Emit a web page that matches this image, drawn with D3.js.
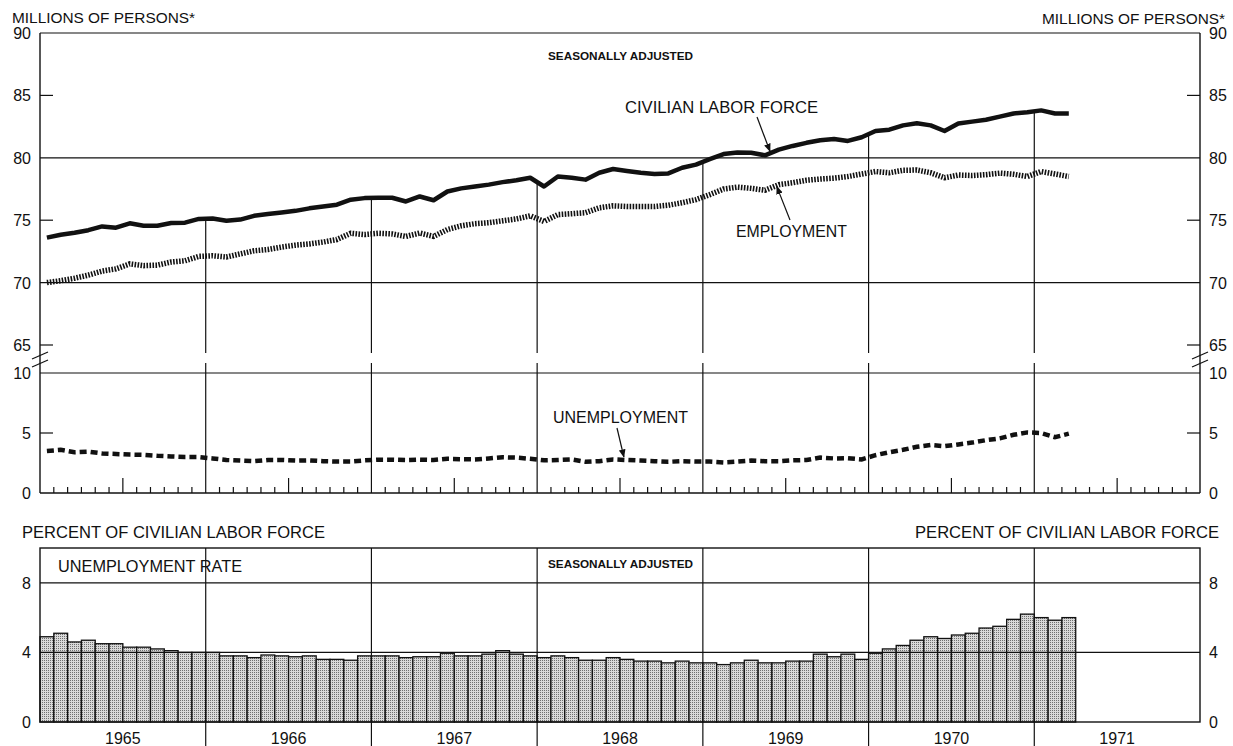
<!DOCTYPE html>
<html>
<head>
<meta charset="utf-8">
<script src="https://cdn.jsdelivr.net/npm/d3@7"></script>
<style>
    html, body { margin: 0; padding: 0; background: #fff; }
    svg { display: block; font-family: 'Liberation Sans', Arial, sans-serif; }
</style>
</head>
<body>
<div id="chart"></div>
<script>
// Monthly, seasonally adjusted, Jan 1965 - Mar 1971
const years = ['1965', '1966', '1967', '1968', '1969', '1970', '1971'];

const laborForce = [
    73.6, 73.84, 74.0, 74.2, 74.5, 74.4, 74.75, 74.56, 74.55, 74.77, 74.8, 75.1,
    75.13, 74.95, 75.05, 75.35, 75.5, 75.62, 75.75, 75.95, 76.1, 76.24, 76.64, 76.77,
    76.8, 76.8, 76.5, 76.9, 76.6, 77.3, 77.55, 77.7, 77.85, 78.05, 78.2, 78.4,
    77.7, 78.5, 78.4, 78.25, 78.8, 79.1, 78.95, 78.8, 78.7, 78.75, 79.2, 79.45,
    79.9, 80.3, 80.43, 80.4, 80.2, 80.65, 80.95, 81.2, 81.4, 81.5, 81.35, 81.65,
    82.15, 82.25, 82.6, 82.77, 82.6, 82.15, 82.75, 82.9, 83.05, 83.3, 83.55, 83.65,
    83.8, 83.55, 83.55
];

const employment = [
    70.0, 70.15, 70.35, 70.6, 70.92, 71.1, 71.5, 71.36, 71.4, 71.65, 71.75, 72.1,
    72.15, 72.05, 72.3, 72.55, 72.65, 72.85, 73.0, 73.1, 73.25, 73.45, 73.95, 73.85,
    73.95, 73.9, 73.7, 73.97, 73.7, 74.25, 74.55, 74.72, 74.8, 74.95, 75.1, 75.35,
    74.9, 75.45, 75.52, 75.6, 76.0, 76.15, 76.1, 76.1, 76.1, 76.2, 76.4, 76.65,
    77.05, 77.5, 77.65, 77.55, 77.4, 77.85, 78.0, 78.2, 78.3, 78.37, 78.5, 78.7,
    78.9, 78.8, 79.0, 79.02, 78.8, 78.4, 78.62, 78.58, 78.65, 78.77, 78.68, 78.5,
    78.9, 78.7, 78.5
];

const unemployment = [
    3.5, 3.6, 3.4, 3.45, 3.3, 3.25, 3.2, 3.18, 3.1, 3.05, 3.0, 3.0,
    2.88, 2.75, 2.7, 2.65, 2.75, 2.75, 2.7, 2.72, 2.65, 2.62, 2.62, 2.72,
    2.78, 2.78, 2.75, 2.78, 2.75, 2.85, 2.82, 2.8, 2.88, 2.98, 2.95, 2.85,
    2.72, 2.75, 2.8, 2.6, 2.65, 2.8, 2.75, 2.7, 2.65, 2.6, 2.65, 2.62,
    2.62, 2.55, 2.62, 2.7, 2.65, 2.65, 2.72, 2.75, 2.95, 2.88, 2.9, 2.8,
    3.15, 3.4, 3.6, 3.85, 4.0, 3.9, 4.05, 4.2, 4.4, 4.55, 4.85, 5.05,
    5.0, 4.65, 4.95
];

const unemploymentRate = [
    4.9, 5.1, 4.6, 4.7, 4.5, 4.5, 4.3, 4.3, 4.2, 4.1, 4.0, 4.0,
    4.0, 3.8, 3.8, 3.7, 3.85, 3.8, 3.75, 3.8, 3.6, 3.6, 3.55, 3.8,
    3.8, 3.8, 3.7, 3.75, 3.75, 3.95, 3.8, 3.8, 3.9, 4.1, 3.9, 3.8,
    3.7, 3.8, 3.7, 3.55, 3.55, 3.7, 3.6, 3.5, 3.5, 3.4, 3.5, 3.4,
    3.4, 3.3, 3.4, 3.55, 3.4, 3.4, 3.5, 3.5, 3.9, 3.75, 3.9, 3.6,
    3.95, 4.2, 4.4, 4.7, 4.9, 4.8, 5.0, 5.1, 5.4, 5.5, 5.9, 6.2,
    6.0, 5.85, 6.0
];

const millionsTicks = [65, 70, 75, 80, 85, 90];
const millionsGrid = [70, 80];
const lowerTicks = [0, 5, 10];
const rateTicks = [0, 4, 8];

const W = 1233, H = 746;
const plotLeft = 40, plotRight = 1200;

const svg = d3.select('#chart').append('svg')
    .attr('width', W)
    .attr('height', H);

const defs = svg.append('defs');
const stipple = defs.append('pattern')
    .attr('id', 'stipple')
    .attr('width', 2).attr('height', 2)
    .attr('patternUnits', 'userSpaceOnUse');
stipple.append('rect').attr('width', 2).attr('height', 2).attr('fill', '#d9d9d9');
stipple.append('rect').attr('width', 1).attr('height', 1).attr('fill', '#707070');

// Scales
const months = d3.range(years.length * 12);
const x = d3.scaleBand().domain(months).range([plotLeft, plotRight]).padding(0);
const xMid = i => x(i) + x.bandwidth() / 2;
const xEdge = i => i >= months.length ? plotRight : x(i);

const yTop = d3.scaleLinear().domain([65, 90]).range([345, 33]);
const yMid = d3.scaleLinear().domain([0, 10]).range([493, 373]);
const yBot = d3.scaleLinear().domain([0, 10]).range([722, 548]);

const ink = '#111';

// ---------- Bottom panel: unemployment rate bars ----------
const botG = svg.append('g');

botG.selectAll('rect.bar')
    .data(unemploymentRate)
    .enter().append('rect')
    .attr('class', 'bar')
    .attr('x', (d, i) => x(i))
    .attr('width', x.bandwidth())
    .attr('y', d => yBot(d))
    .attr('height', d => yBot(0) - yBot(d))
    .attr('fill', 'url(#stipple)')
    .attr('stroke', ink)
    .attr('stroke-width', 1.3);

botG.selectAll('line.grid')
    .data([4, 8])
    .enter().append('line')
    .attr('x1', plotLeft).attr('x2', plotRight)
    .attr('y1', d => yBot(d)).attr('y2', d => yBot(d))
    .attr('stroke', ink).attr('stroke-width', 1.2);

// year separators, running below the axis
botG.selectAll('line.year')
    .data(d3.range(1, years.length))
    .enter().append('line')
    .attr('x1', k => xEdge(k * 12)).attr('x2', k => xEdge(k * 12))
    .attr('y1', yBot(10)).attr('y2', H)
    .attr('stroke', ink).attr('stroke-width', 1.2);

botG.append('rect')
    .attr('x', plotLeft).attr('y', yBot(10))
    .attr('width', plotRight - plotLeft).attr('height', yBot(0) - yBot(10))
    .attr('fill', 'none').attr('stroke', ink).attr('stroke-width', 1.4);

botG.selectAll('text.year')
    .data(years)
    .enter().append('text')
    .attr('x', (d, k) => xEdge(k * 12 + 6))
    .attr('y', 744)
    .attr('text-anchor', 'middle')
    .attr('font-size', 16)
    .attr('fill', ink)
    .text(d => d);

[['end', plotLeft - 9], ['start', plotRight + 9]].forEach(([anchor, tx]) => {
    botG.selectAll(null)
        .data(rateTicks)
        .enter().append('text')
        .attr('x', tx).attr('y', d => yBot(d) + 6)
        .attr('text-anchor', anchor)
        .attr('font-size', 16)
        .attr('fill', ink)
        .text(d => d);
});

botG.append('text').attr('x', 22).attr('y', 538)
    .attr('font-size', 16).attr('fill', ink)
    .attr('textLength', 303).attr('lengthAdjust', 'spacingAndGlyphs')
    .text('PERCENT OF CIVILIAN LABOR FORCE');
botG.append('text').attr('x', 1219).attr('y', 538)
    .attr('text-anchor', 'end')
    .attr('font-size', 16).attr('fill', ink)
    .attr('textLength', 304).attr('lengthAdjust', 'spacingAndGlyphs')
    .text('PERCENT OF CIVILIAN LABOR FORCE');
botG.append('text').attr('x', 58).attr('y', 572)
    .attr('font-size', 16).attr('fill', ink)
    .attr('textLength', 184).attr('lengthAdjust', 'spacingAndGlyphs')
    .text('UNEMPLOYMENT RATE');
botG.append('text').attr('x', 548).attr('y', 568)
    .attr('font-size', 11).attr('font-weight', 'bold').attr('fill', ink)
    .attr('textLength', 145).attr('lengthAdjust', 'spacingAndGlyphs')
    .text('SEASONALLY ADJUSTED');

// ---------- Top panel: labor force & employment ----------
const topG = svg.append('g');

topG.selectAll('line.grid')
    .data(millionsGrid.concat([90]))
    .enter().append('line')
    .attr('x1', plotLeft).attr('x2', plotRight)
    .attr('y1', d => yTop(d)).attr('y2', d => yTop(d))
    .attr('stroke', ink).attr('stroke-width', 1.2);

// year lines start at the labor force curve
topG.selectAll('line.year')
    .data(d3.range(1, years.length))
    .enter().append('line')
    .attr('x1', k => xEdge(k * 12)).attr('x2', k => xEdge(k * 12))
    .attr('y1', k => yTop((laborForce[k * 12 - 1] + laborForce[k * 12]) / 2))
    .attr('y2', yTop(65) + 8)
    .attr('stroke', ink).attr('stroke-width', 1.2);

// short inner ticks
[[plotLeft, 13], [plotRight, -13]].forEach(([ax, len]) => {
    topG.selectAll(null)
        .data([65, 75, 85])
        .enter().append('line')
        .attr('x1', ax).attr('x2', ax + len)
        .attr('y1', d => yTop(d)).attr('y2', d => yTop(d))
        .attr('stroke', ink).attr('stroke-width', 1.2);
});

[['end', plotLeft - 9], ['start', plotRight + 9]].forEach(([anchor, tx]) => {
    topG.selectAll(null)
        .data(millionsTicks)
        .enter().append('text')
        .attr('x', tx).attr('y', d => yTop(d) + 6)
        .attr('text-anchor', anchor)
        .attr('font-size', 16)
        .attr('fill', ink)
        .text(d => d);
});

const lineTop = series => d3.line()
    .x((d, i) => xMid(i))
    .y(d => yTop(d))
    .curve(d3.curveLinear)(series);

topG.append('path')
    .attr('d', lineTop(employment))
    .attr('fill', 'none').attr('stroke', ink)
    .attr('stroke-width', 5.5)
    .attr('stroke-dasharray', '1.6,1.4');

topG.append('path')
    .attr('d', lineTop(laborForce))
    .attr('fill', 'none').attr('stroke', ink)
    .attr('stroke-width', 4.5)
    .attr('stroke-linejoin', 'round');

topG.append('text').attr('x', 12).attr('y', 23)
    .attr('font-size', 14).attr('fill', ink)
    .attr('textLength', 183).attr('lengthAdjust', 'spacingAndGlyphs')
    .text('MILLIONS OF PERSONS*');
topG.append('text').attr('x', 1225).attr('y', 24)
    .attr('text-anchor', 'end')
    .attr('font-size', 14).attr('fill', ink)
    .attr('textLength', 183).attr('lengthAdjust', 'spacingAndGlyphs')
    .text('MILLIONS OF PERSONS*');
topG.append('text').attr('x', 548).attr('y', 60)
    .attr('font-size', 11).attr('font-weight', 'bold').attr('fill', ink)
    .attr('textLength', 145).attr('lengthAdjust', 'spacingAndGlyphs')
    .text('SEASONALLY ADJUSTED');

// ---------- Middle panel: unemployment ----------
const midG = svg.append('g');

midG.append('line')
    .attr('x1', plotLeft).attr('x2', plotRight)
    .attr('y1', yMid(10)).attr('y2', yMid(10))
    .attr('stroke', ink).attr('stroke-width', 1.2);
midG.append('line')
    .attr('x1', plotLeft).attr('x2', plotRight)
    .attr('y1', yMid(0)).attr('y2', yMid(0))
    .attr('stroke', ink).attr('stroke-width', 1.5);

midG.selectAll('line.year')
    .data(d3.range(1, years.length))
    .enter().append('line')
    .attr('x1', k => xEdge(k * 12)).attr('x2', k => xEdge(k * 12))
    .attr('y1', yMid(10) - 10).attr('y2', yMid(0))
    .attr('stroke', ink).attr('stroke-width', 1.2);

// month ticks, taller at mid-year
midG.selectAll('line.month')
    .data(months.filter(m => m > 0 && m % 12 !== 0))
    .enter().append('line')
    .attr('x1', m => x(m)).attr('x2', m => x(m))
    .attr('y1', yMid(0))
    .attr('y2', m => yMid(0) - (m % 12 === 6 ? 15 : 6))
    .attr('stroke', ink).attr('stroke-width', 1.2);

[[plotLeft, 13], [plotRight, -13]].forEach(([ax, len]) => {
    midG.append('line')
        .attr('x1', ax).attr('x2', ax + len)
        .attr('y1', yMid(5)).attr('y2', yMid(5))
        .attr('stroke', ink).attr('stroke-width', 1.2);
});

[['end', plotLeft - 9], ['start', plotRight + 9]].forEach(([anchor, tx]) => {
    midG.selectAll(null)
        .data(lowerTicks)
        .enter().append('text')
        .attr('x', tx).attr('y', d => yMid(d) + 6)
        .attr('text-anchor', anchor)
        .attr('font-size', 16)
        .attr('fill', ink)
        .text(d => d);
});

midG.append('path')
    .attr('d', d3.line().x((d, i) => xMid(i)).y(d => yMid(d))(unemployment))
    .attr('fill', 'none').attr('stroke', ink)
    .attr('stroke-width', 4.5)
    .attr('stroke-dasharray', '7,4');

// side axes through both upper panels, with break marks
[plotLeft, plotRight].forEach(ax => {
    svg.append('line')
        .attr('x1', ax).attr('x2', ax)
        .attr('y1', yTop(90)).attr('y2', yMid(0))
        .attr('stroke', ink).attr('stroke-width', 1.4);
    [0, 8].forEach(off => {
        svg.append('line')
            .attr('x1', ax - 8).attr('x2', ax + 8)
            .attr('y1', yTop(65) + 14 + off).attr('y2', yTop(65) + 7 + off)
            .attr('stroke', ink).attr('stroke-width', 1.2);
    });
});

// ---------- Annotations ----------
const ann = svg.append('g');
defs.append('marker')
    .attr('id', 'arrow')
    .attr('viewBox', '0 0 10 10')
    .attr('refX', 9).attr('refY', 5)
    .attr('markerWidth', 7).attr('markerHeight', 7)
    .attr('orient', 'auto')
    .append('path').attr('d', 'M0,1 L10,5 L0,9 Z').attr('fill', ink);

function label(text, tx, ty, width, tip) {
    ann.append('text').attr('x', tx).attr('y', ty)
        .attr('font-size', 16).attr('fill', ink)
        .attr('textLength', width).attr('lengthAdjust', 'spacingAndGlyphs')
        .text(text);
    ann.append('line')
        .attr('x1', tip.x0).attr('y1', tip.y0)
        .attr('x2', tip.x1).attr('y2', tip.y1)
        .attr('stroke', ink).attr('stroke-width', 1.2)
        .attr('marker-end', 'url(#arrow)');
}

label('CIVILIAN LABOR FORCE', 625, 113, 193,
    { x0: 757, y0: 117, x1: xMid(52) + 5, y1: yTop(laborForce[52]) - 4 });
label('EMPLOYMENT', 736, 237, 111,
    { x0: 790, y0: 220, x1: xMid(53) - 2, y1: yTop(employment[53]) + 2 });
label('UNEMPLOYMENT', 553, 423, 135,
    { x0: 617, y0: 428, x1: xMid(42) - 3, y1: yMid(unemployment[42]) - 3 });
</script>
</body>
</html>
